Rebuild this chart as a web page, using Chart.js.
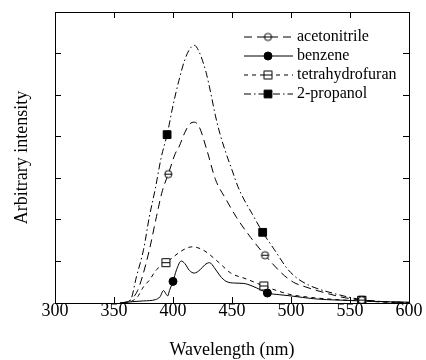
<!DOCTYPE html>
<html>
<head>
<meta charset="utf-8">
<title>Emission spectra</title>
<script src="https://cdn.jsdelivr.net/npm/chart.js@4.4.1/dist/chart.umd.min.js"></script>
<style>
  html, body { margin: 0; padding: 0; background: #fff; }
  #wrap { width: 426px; height: 360px; }
</style>
</head>
<body>
<div id="wrap"><canvas id="spectraChart" width="426" height="360"></canvas></div>
<script>
// axis ranges
const xMin = 300, xMax = 600, xStep = 50;
const yMin = 0, yMax = 7, yStep = 1;

const seriesNames = ['acetonitrile', 'benzene', 'tetrahydrofuran', '2-propanol'];

// acetonitrile (long dash)
const acetonitrileNm = [358, 364, 370, 374, 380, 386, 391, 396, 402, 405, 410, 414, 418, 422, 429, 436, 445, 454, 466, 478, 492, 502, 512, 522, 532, 545, 560, 580, 600];
const acetonitrileI = [0, 0.07, 0.3, 0.63, 1.28, 2.08, 2.7, 3.1, 3.6, 3.75, 4.1, 4.3, 4.35, 4.25, 3.65, 2.97, 2.49, 2.05, 1.57, 1.15, 0.72, 0.5, 0.39, 0.3, 0.22, 0.13, 0.07, 0.03, 0.01];

// benzene (solid)
const benzeneNm = [355, 365, 375, 385, 389, 392, 394, 395.5, 397, 400, 403, 407, 410, 414, 418, 423, 427, 431, 435, 440, 445, 452, 460, 467, 474, 480, 490, 500, 520, 540, 560, 580, 600];
const benzeneI = [0, 0.03, 0.05, 0.08, 0.15, 0.3, 0.22, 0.17, 0.3, 0.52, 0.8, 1.01, 0.95, 0.78, 0.72, 0.8, 0.92, 0.97, 0.85, 0.65, 0.52, 0.48, 0.47, 0.41, 0.32, 0.24, 0.2, 0.17, 0.1, 0.07, 0.05, 0.03, 0.02];

// tetrahydrofuran (short dash)
const thfNm = [358, 364, 370, 375, 380, 386, 394, 400, 407, 416, 422, 428, 439, 449, 462, 477, 490, 500, 515, 530, 545, 560, 580, 600];
const thfI = [0, 0.03, 0.15, 0.39, 0.55, 0.8, 0.97, 1.1, 1.25, 1.35, 1.32, 1.23, 0.97, 0.72, 0.58, 0.41, 0.28, 0.2, 0.14, 0.1, 0.07, 0.05, 0.02, 0.01];

// 2-propanol (dash dot)
const propanolNm = [355, 360, 364, 369, 375, 380, 385, 390, 395, 400, 405, 410, 414, 418, 422, 428, 432, 436, 440, 445, 450, 455, 460, 467, 476, 486, 497, 505, 515, 525, 535, 549, 560, 575, 590, 600];
const propanolI = [0, 0.02, 0.07, 0.63, 1.28, 2.08, 2.75, 3.5, 4.05, 4.75, 5.35, 5.85, 6.1, 6.2, 6.05, 5.55, 5.05, 4.5, 4.05, 3.6, 3.2, 2.8, 2.5, 2.15, 1.7, 1.28, 0.82, 0.6, 0.43, 0.32, 0.24, 0.14, 0.08, 0.04, 0.02, 0.01];

// markers
const acetonitrileMarkNm = [396, 478, 560];
const acetonitrileMarkI = [3.1, 1.15, 0.07];
const benzeneMarkNm = [400, 480, 560];
const benzeneMarkI = [0.52, 0.24, 0.05];
const thfMarkNm = [394, 477, 560];
const thfMarkI = [0.97, 0.41, 0.06];
const propanolMarkNm = [395, 476, 560];
const propanolMarkI = [4.05, 1.7, 0.07];

function toPoints(xs, ys) {
    return xs.map((x, i) => ({ x: x, y: ys[i] }));
}

// open markers with a bar through the middle (circle / square)
function barredMarker(shape) {
    const cv = document.createElement('canvas');
    cv.width = 11;
    cv.height = 11;
    const g = cv.getContext('2d');
    g.fillStyle = '#fff';
    g.strokeStyle = '#000';
    g.lineWidth = 1;
    g.beginPath();
    if (shape === 'circle') {
        g.arc(5.5, 5.5, 3.6, 0, Math.PI * 2);
    } else {
        g.rect(1.5, 1.5, 8, 8);
    }
    g.fill();
    g.stroke();
    g.beginPath();
    g.moveTo(shape === 'circle' ? 2 : 1.5, 5.5);
    g.lineTo(shape === 'circle' ? 9 : 9.5, 5.5);
    g.stroke();
    return cv;
}

const serif = "'Liberation Serif', 'Times New Roman', serif";

const lineStyles = [
    { dash: [8, 5] },
    { dash: [] },
    { dash: [4, 4] },
    { dash: [7, 3, 1.5, 3] }
];
const markStyles = [
    { style: barredMarker('circle'), radius: 4, fill: '#fff' },
    { style: 'circle', radius: 4, fill: '#000' },
    { style: barredMarker('rect'), radius: 5.5, fill: '#fff' },
    { style: 'rect', radius: 5.5, fill: '#000' }
];

const lineData = [
    toPoints(acetonitrileNm, acetonitrileI),
    toPoints(benzeneNm, benzeneI),
    toPoints(thfNm, thfI),
    toPoints(propanolNm, propanolI)
];
const markData = [
    toPoints(acetonitrileMarkNm, acetonitrileMarkI),
    toPoints(benzeneMarkNm, benzeneMarkI),
    toPoints(thfMarkNm, thfMarkI),
    toPoints(propanolMarkNm, propanolMarkI)
];

const datasets = [];
seriesNames.forEach((name, i) => {
    datasets.push({
        label: name,
        data: lineData[i],
        borderColor: '#000',
        borderWidth: 1,
        borderDash: lineStyles[i].dash,
        pointRadius: 0,
        fill: false,
        cubicInterpolationMode: 'monotone',
        order: 2
    });
});
seriesNames.forEach((name, i) => {
    datasets.push({
        label: name + ' markers',
        data: markData[i],
        showLine: false,
        pointStyle: markStyles[i].style,
        pointRadius: markStyles[i].radius,
        pointBackgroundColor: markStyles[i].fill,
        pointBorderColor: '#000',
        pointBorderWidth: 1,
        order: 1
    });
});

// legend drawn inside the plot, line sample with marker in the middle
const insideLegend = {
    id: 'insideLegend',
    afterDatasetsDraw(chart) {
        const c = chart.ctx;
        seriesNames.forEach((name, i) => {
            const y = 37 + i * 19;
            c.save();
            c.strokeStyle = '#000';
            c.lineWidth = 1;
            c.setLineDash(lineStyles[i].dash);
            c.beginPath();
            c.moveTo(244, y);
            c.lineTo(293, y);
            c.stroke();
            c.setLineDash([]);
            c.fillStyle = markStyles[i].fill;
            c.strokeStyle = '#000';
            Chart.helpers.drawPoint(c, {
                pointStyle: markStyles[i].style,
                radius: markStyles[i].radius,
                borderWidth: 1
            }, 268, y);
            c.fillStyle = '#000';
            c.font = '16px ' + serif;
            c.textBaseline = 'middle';
            c.textAlign = 'left';
            c.fillText(name, 297, y);
            c.restore();
        });
    }
};

const inwardGrid = {
    drawOnChartArea: false,
    drawTicks: true,
    tickLength: -6,
    color: '#000',
    lineWidth: 1
};
const frame = { display: true, color: '#000', width: 1 };

new Chart(document.getElementById('spectraChart'), {
    type: 'line',
    data: { datasets: datasets },
    options: {
        responsive: false,
        animation: false,
        devicePixelRatio: 1,
        layout: { padding: 0 },
        plugins: {
            legend: { display: false },
            tooltip: { enabled: false }
        },
        scales: {
            x: {
                type: 'linear',
                position: 'bottom',
                min: xMin,
                max: xMax,
                grid: inwardGrid,
                border: frame,
                ticks: {
                    stepSize: xStep,
                    color: '#000',
                    padding: 3,
                    maxRotation: 0,
                    font: { family: serif, size: 18 }
                },
                title: {
                    display: true,
                    text: 'Wavelength (nm)',
                    color: '#000',
                    padding: { top: 0, bottom: 1 },
                    font: { family: serif, size: 18, lineHeight: 1 }
                },
                afterFit: s => { s.height = 57; }
            },
            x2: {
                type: 'linear',
                position: 'top',
                min: xMin,
                max: xMax,
                grid: inwardGrid,
                border: frame,
                ticks: { stepSize: xStep, display: false },
                afterFit: s => { s.height = 12; }
            },
            y: {
                type: 'linear',
                position: 'left',
                min: yMin,
                max: yMax,
                grid: inwardGrid,
                border: frame,
                ticks: { stepSize: yStep, display: false },
                title: {
                    display: true,
                    text: 'Arbitrary intensity',
                    color: '#000',
                    padding: { top: 11, bottom: 0 },
                    font: { family: serif, size: 18 }
                },
                afterFit: s => { s.width = 55; }
            },
            y2: {
                type: 'linear',
                position: 'right',
                min: yMin,
                max: yMax,
                grid: inwardGrid,
                border: frame,
                ticks: { stepSize: yStep, display: false },
                afterFit: s => { s.width = 17; }
            }
        }
    },
    plugins: [insideLegend]
});
</script>
</body>
</html>
